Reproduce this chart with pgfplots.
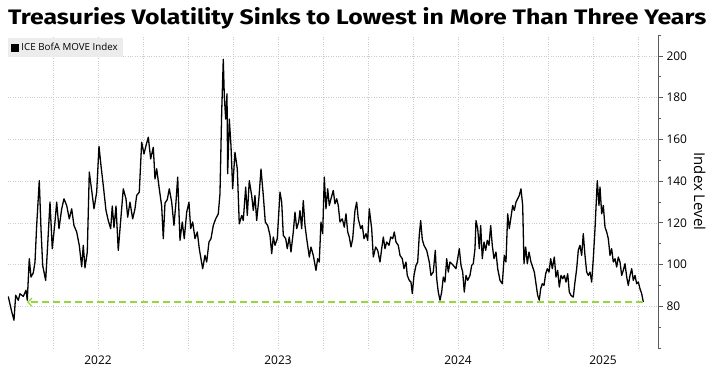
\documentclass[border=0pt]{standalone}
\usepackage{graphicx}
\usepackage{pgfplots}
\pgfplotsset{compat=1.18}
\usepackage{pgfplotstable}
\usepackage{fontspec}
\setmainfont{Open Sans}
\newfontfamily\titlefont{Fira Sans}
\usetikzlibrary{arrows.meta}
\definecolor{refgreen}{RGB}{150,215,60}
\definecolor{gridgray}{RGB}{205,205,205}
\definecolor{axgray}{RGB}{90,90,90}
\definecolor{leggray}{RGB}{236,236,236}

\pgfplotstableread{
px val
8.3 84.7
11.7 77.5
14 73.3
15.7 85.3
18.3 82.9
20 86
23.3 84.7
26 87.7
27.3 82.9
29.3 102.8
31 94
33.3 96
35 101.2
36.7 118.7
39.3 140.2
41 117.2
42.7 99.6
45.7 92.4
47.3 106
50 129.9
52.3 107.6
55 120.4
56.7 129.9
59 117.2
61.7 126.7
64 131.5
66.7 128.3
69.3 121.9
71.7 126.7
74 118.7
76.7 115.6
79.3 109.2
81.7 98.9
83.3 109.2
85 98.4
87.3 106
89.3 144.3
91.7 135.5
94 126.7
96.7 134.7
99 156.7
101 147.4
103.3 137.9
106 125.9
108.3 121.1
110.7 117.2
112.3 128
114 117.7
116 128
118.3 106.8
120.7 121.1
123.3 136.3
126 131.5
127.7 122.7
130 129.9
132.7 121.9
135 126.7
136.7 133.1
139.3 134.7
141.7 158.6
144 153
146 157
148.3 161
150.7 150.6
153.3 156.2
155 141
156.7 145.9
159.3 136.3
161.7 128
163.3 112.4
165 129.5
167.3 131.1
169.3 136.3
171.7 129.9
174 118.7
176 129.9
177.7 141.9
180 111.6
182.3 120.4
184.3 112.4
186.7 125.1
189 129.9
190.7 117.2
192.7 120.4
195 112.4
197.3 115.6
199.3 107.6
201 102.8
202.7 98
205 104.4
206.7 101.2
209 110.8
211 112.4
213.3 118.7
215.7 121.9
218.3 124.3
220 133.9
221.7 172.9
223.3 198.4
224.3 180.9
225.7 169.7
227 181.8
227.7 143.5
229.3 169.7
231 156.9
232.7 136.3
235 153.8
237.3 145.9
239.3 119.5
241.7 123.5
243.3 121.1
245.7 137.1
247.3 123.5
249.3 140.2
251.7 133.1
253.3 125.9
255 133.1
256.7 121.1
259 132.3
261 145.8
263.3 133.1
265.3 120.4
267.7 118.7
270 114
271.7 105.2
273.3 113.2
275 109.2
277.3 112.4
280 134.7
281.7 129.9
283.3 114
285.7 112.4
287.3 107.6
289.3 113.2
291 106
293.3 115.6
295 125.1
296.7 117.2
298.7 120.4
300 125.9
301.7 117.2
303.3 130.7
305 118.7
306.7 112.4
309.3 103.6
311 108.4
313.3 104.4
316 97.2
317.7 102.8
319.3 101.2
321 120.4
322.7 114.8
324.3 141.9
326 126.7
327.7 136.3
329.3 128.3
331 131.5
333.3 135.5
335 129.1
336.7 131.5
338.3 128.3
340 120.4
342.3 121.9
344.3 117.9
346 124.3
347.7 115.6
349.3 113.2
351 108.4
352.7 112.4
355 125.9
356.7 129.9
358.3 121.9
360.7 117.2
362.3 118.7
364 112.4
366 114.8
367.7 111.6
369.3 126.7
371.7 117.2
373.3 103.6
375.7 108.4
377.7 106.8
380 101.2
381.7 107.6
383.3 113.2
385 107.6
386.7 110.8
389 109.2
390.7 113.2
392.7 112.4
394.3 115.6
396 110.8
398.3 109.2
400 104.4
402.3 102.8
404 98
406 101.2
407.3 94.8
409.3 92.4
411 91.6
412.3 86.1
414 94.8
416 99.6
417.7 101.2
419.3 114
420.7 121.1
422.3 112
424 109.2
426.7 106.8
429.3 101.2
431 94.8
433.3 96.4
435.3 106.8
436.7 93.2
438.3 86.8
440 82.9
441.7 86.8
443.3 94
445 91.6
446.7 102.8
448.3 96.4
450 101.2
451.7 100.4
453.3 99.6
456 98
457.7 102.8
459.3 107.6
461 99.6
462.7 96.4
464.3 86.8
466 94.8
467.7 92.4
470 94.8
471.7 99.6
473.3 100.4
475 107.6
476 121.1
477.7 117.2
479.3 107.6
480.7 118.7
482.3 102.8
484 110.8
485.7 106.8
487.3 111.6
489 109.2
490.7 118.7
492.3 109.2
494 102.8
496 106
497.7 98
500 92.4
502.3 90.8
504.3 104.4
506 101.2
507.7 124.3
509.3 117.2
511 122.7
512.7 128.3
514.3 125.9
516 129.9
517.7 131.5
519.3 133.1
521 136.3
522.7 128.3
524 100.4
525.7 108.4
527.3 100.4
529 106
531 101.2
532.7 98.8
534.3 96.4
536 90.8
537.7 85.2
539.3 82.9
540.7 88.4
542.3 90.8
544 90
545.7 95.6
547.3 98
549 96.4
550.7 102.8
552.3 98
554.3 103.6
556 94
557.7 97.2
559.3 89.2
561 94.8
562.7 93.2
564.3 94.8
566 91.6
567.7 95.6
569.3 86.8
571 85.2
573.3 84.4
575 91.6
576.7 98
578.3 106.8
580 109.2
581.7 104.4
583.3 114.8
585 104.4
586.7 96.4
588.3 94.8
590 96.4
591.7 91.6
593.3 102.8
595 117.2
597.3 140.2
599 128.3
600 137.1
601.7 124.3
603.3 128.3
605 117.9
606.7 115.6
608.3 112.4
610 104.4
611.7 107.6
613.3 101.2
615 102.8
616.7 98.8
618.3 103.6
620 101.2
621.7 94.8
623.3 97.2
625 100.4
626.7 94
628.3 90
630 94.8
631.7 98
633.3 92.4
635 94.8
636.7 90.8
638.3 91.6
640 88.4
641.7 86
643.3 82.1
}\movedata

\begin{document}
\begin{tikzpicture}[x=1bp,y=1bp]
\path[use as bounding box] (-8,-31) rectangle (704,348);
\begin{axis}[
  at={(0,0)}, anchor=south west,
  scale only axis, width=650bp, height=313bp,
  xmin=2022, xmax=2025.6111, ymin=60, ymax=210,
  axis y line*=right, axis x line*=bottom,
  x axis line style={draw=none},
  y axis line style={draw=axgray, line width=0.8bp},
  xtick={2022.25,2022.5,...,2025.5}, xticklabels={},
  xtick style={draw=none},
  extra x ticks={2022.5,2023.5,2024.5,2025.3056},
  extra x tick labels={2022,2023,2024,2025},
  extra x tick style={grid=none, major tick length=0pt, tick style={draw=none}},
  xmajorgrids, ymajorgrids,
  grid style={gridgray, dotted, line width=0.5bp},
  ytick={80,100,...,200},
  minor ytick={60,70,90,110,130,150,170,190,210},
  tick align=outside,
  ytick style={draw=axgray, line width=0.7bp},
  major tick length=5bp, minor tick length=3bp,
  /pgf/number format/assume math mode=true,
  tick label style={font=\fontsize{12}{12}\selectfont, text=black},
  xticklabel style={yshift=-4bp},
  ylabel={Index Level},
  ylabel style={rotate=180, font=\fontsize{15}{15}\selectfont},
  legend style={at={(0,1)}, anchor=north west, yshift=-3bp,
    fill=leggray, draw=none, font=\fontsize{9.8}{10}\selectfont,
    inner xsep=3bp, inner ysep=3bp},
  legend cell align=left,
  legend image code/.code={\fill[black] (0bp,-3.5bp) rectangle (7bp,3.5bp);},
]
\addplot[black, line width=1.3bp, line join=round] table[x expr={2022+(\thisrow{px}-8)/180}, y=val] {\movedata};
\addlegendentry{ICE BofA MOVE Index}
\addplot[refgreen, line width=1.2bp, dash pattern=on 7bp off 4bp, -{Straight Barb[length=4bp, width=8bp]}, forget plot]
  coordinates {(2025.5294,82) (2022.1056,82)};
\end{axis}
\node[anchor=base west, inner sep=0pt] at (0,324) {\resizebox{698bp}{17bp}{\titlefont\bfseries Treasuries Volatility Sinks to Lowest in More Than Three Years}};
\end{tikzpicture}
\end{document}
